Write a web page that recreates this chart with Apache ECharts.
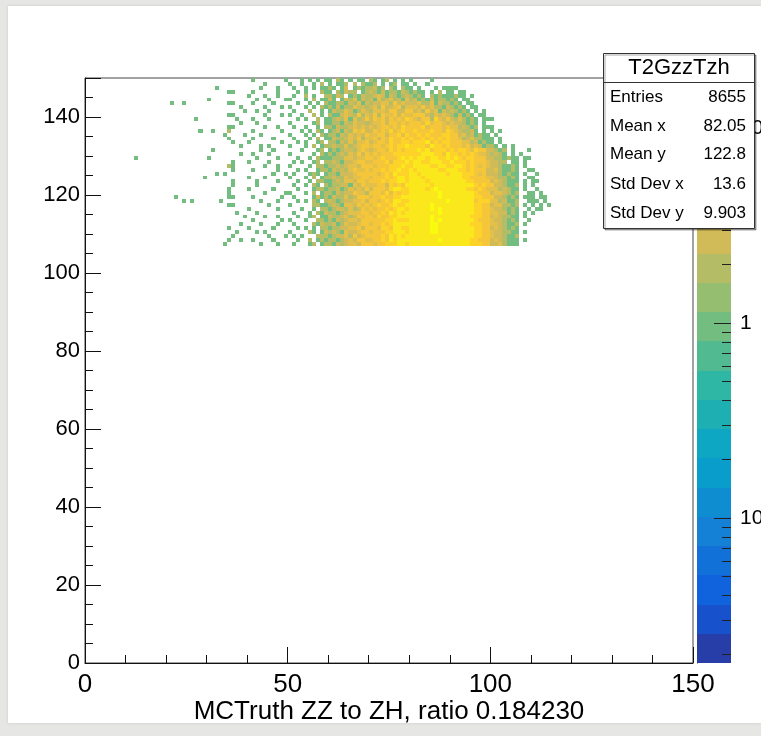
<!DOCTYPE html>
<html>
<head>
<meta charset="utf-8">
<script src="https://cdn.jsdelivr.net/npm/echarts/dist/echarts.min.js"></script>
<style>
  html, body { margin: 0; padding: 0; background: #e6e6e4; }
  #panel { position: absolute; left: 8px; top: 6px; width: 753px; height: 717px; background: #fff;
           box-shadow: 0 0 3px rgba(0,0,0,0.12); }
  #chart { position: absolute; left: 0; top: 0; width: 761px; height: 736px; }
</style>
</head>
<body>
<div id="panel"></div>
<div id="chart"></div>
<script>
// ---- histogram contents -------------------------------------------------
// One string per y bin (bin width 1), from y = 149 down to y = 107.
// Each character is one x bin starting at x = 10; '.' is empty,
// '1'..'9' are counts, 'a' = 10, 'b' = 11, ... (spaces only group columns by ten).
const binStartX = 10;
const topRowY = 149;
const countDigits = '.123456789abcdefghi';
const binCounts = [
  ".......... .......... .......... .1.......1 ...1.1.1.1 1.21.1.11. 21.12.1.1. 1....1.... .......... .......... ......",
  ".......... .......... .......... ....1..... 1..1..1.2. 1.112.2.21 12.1.12.11 .1..1..... .......... .......... ......",
  ".......... .......... ..1....... ...1...1.. .1..1.1.11 21.13.1212 2312.21.21 1.1...1.11 11........ .......... ......",
  ".......... .......... .....11... .1.....1.. ..1.1...21 1.21322.12 3213122132 1211.1.2.1 1.11...... .......... ......",
  ".......... .......... .......... 1...1..1.. .1..2.1..2 2132.12132 2343132123 2121.21211 1211.1.... .......... ......",
  ".......... .......... 1......... ..1..1...1 1...1.2.11 31.1324132 3142342314 2312131221 21.11..... .......... ......",
  ".......... .1..1..... .....11... .1....1... ..1..1.1.2 1122132413 2334425343 3342241322 121.11.... .......... ......",
  ".......... .......... ........1. ....1...1. 1...1.1.21 2131224332 3425334524 4435342213 2121.11... .......... ......",
  ".......... .......... .........1 ..1..1.... .1...2..1. 1322431243 2444365335 5342534132 32121.1.1. .......... ......",
  ".......... .......... .....11... ....1...1. 1..1..2.1. 2113432524 3526445364 4655324343 213121.11. .......... ......",
  ".......... .......1.. .......1.. .1...1.... ..1.1..2.1 1232414235 3645364547 5436627435 3242121.11 1......... ......",
  ".......... .......... ........1. ..1....... 1.....12.1 1221324332 3445365464 5564746543 4332121.1. .......... ......",
  ".......... .......... .....11... ....1..1.. .1..1..1.2 2132234343 4345546475 6657465646 4423212.11 1......... ......",
  ".......... ........1. .1...2.... .1......1. ...1.1.21. 1231325453 3546474576 5766575647 5432231.1. 1.1....... ......",
  ".......... .......... ....1....1 ...1...... 1...1.1.21 2213243435 4456365748 6675856577 5534231211 .1........ ......",
  ".......... .......... .....1.... .1....1... .1...1.2.1 1322343524 4535476586 7667575867 6542342211 1.1....... ......",
  ".......... .......... ......1... 1.......1. ..1.1..12. 2213242446 3466475687 6877967687 6554423121 1.1....... ......",
  ".......... .......... ........1. ...1.1.... 1...1.2.12 2322423455 4564586779 8787597868 6654534312 21.1.1.... ......",
  ".......... .......... .1........ ...1..1... ...1...12. 1212332454 3455476867 7798a68876 7677548553 3212.1...1 ......",
  ".......... .......... ........1. .1...1.... 1.....1.21 2123243536 4546657787 8879a97869 7867685443 2321.1.1.. ......",
  "..1....... .......... 1......... ..1....1.. ..1..1.211 1222443445 5457566898 989a7b9889 8976786553 3221211.11 ......",
  ".......... .......... ......1... 1....1.... .1.1..12.2 2321334564 4566747879 7a98899a87 9887675564 3322.11.1. ......",
  ".......... .......... .....21... ....1..1.. 1....1.221 2232344356 5465687798 8a99b87a98 8997685454 3321121.1. ......",
  ".......... .......... ......1... .1.....1.. ..1.1..122 1323245446 4567578a87 98aab9a889 a988675563 3421121..1 1.....",
  ".......... .......... ..1.1..... ......1..1 .1...121.1 2213334565 5546769788 a989ba9a98 9a98775463 3321211.1. .1....",
  ".......... .........1 .......... 1...1..... 1...1.2.12 2322434456 4656768a97 99b89ab9a9 9a98865564 4322121..1 1.....",
  ".......... .......... ......1... ..1....1.. ..1..1.221 1232443564 5567678a98 9aab8a9ca9 a99a876655 3432111.1. 11....",
  ".......... .......... ......1... ..1....... .1..1.21.2 1223314354 4456385769 99bac8aca9 bba99a7685 5332112.1. 1.....",
  ".......... .......... .....1.... 1.....1... ..1...1221 2231243436 3566479a87 a9bb89dcba ab9c886754 4423211.1. .1....",
  ".......... .......... .....1.... ....1....1 1...1.2.12 2132335442 5564748688 bab9acbdaa c9abb97665 3443212..1 1.1...",
  ".......... ..1....... .....11... .1......1. .1....1312 1322423565 4657668799 9aacbb9eca bab9a98756 5332121.11 1.11..",
  ".......... ....1.1... ...1...... ...1...1.. ..1.1.21.2 3212334453 6645769a78 ab9cbcaabd 9cba996877 4423112..1 11.1..",
  ".......... .......... .....11... .....1.... 1.....2211 2321443546 4576589879 bcaa9dcbab aab9ba7865 3442212.1. 1.1.1.",
  ".......... .......... .......... 1......1.. ...1..1.22 1233242364 5466758a98 9bbacdaecb cba99b8766 4332121..1 .11...",
  ".......... .......... .......1.. ..1....... .1...1.213 2212344455 4667597a8a bba9ccbdab ab9ab97755 4433121.1. 1.....",
  ".......... .......... .........1 ....1..1.. ..1..12.11 3223423546 5475688a99 acbb9dcabc b9aab87866 3432211.1. ......",
  ".......... .......... .......... .1......1. 1...1..221 2132344365 5566779888 abcaadbeca 9bba997665 4332121..1 ......",
  ".......... .......... ........1. ...1...1.. .1....2132 2312433456 4657689a9a bacbbeecab ab9ba87756 4432112.1. ......",
  ".......... .......... .....1.... 1.....1... ..1.1.1.22 1223344536 5647769a88 abbcaidcba bab99a7865 3432121... ......",
  ".......... .......... .......1.. ..1.1..... 1....21.13 2321433465 4566789a98 bcaa9ddbcb abb9a97765 4332211.1. ......",
  ".......... .......... ......1... .....1...1 .1.1...222 1233425345 5567698a89 abcab9cbaa 9ab99a7766 4332112... ......",
  ".......... .......... .....1..1. .1....1... ..1..2.121 2212343564 4657697999 9bbaacbdab ba99a87665 3432111.1. ......",
  ".......... .......... ....1..... ...1...1.. .1...12.12 2132344355 5466788a98 abab9cbbac a9ba987765 3342111... ......"
];

// ---- axes and labels ------------------------------------------------------
const xTitle = 'MCTruth ZZ to ZH, ratio 0.184230';
const histName = 'T2GzzTzh';
const statsRows = [
  ['Entries', '8655'],
  ['Mean x', '82.05'],
  ['Mean y', '122.8'],
  ['Std Dev x', '13.6'],
  ['Std Dev y', '9.903']
];
// palette axis (log scale) and its tick marks
const zMin = 0.018;
const zMax = 18;
const nBands = 20;
const zTicks = [0.02, 0.03, 0.04, 0.05, 0.06, 0.07, 0.08, 0.09,
                0.1, 0.2, 0.3, 0.4, 0.5, 0.6, 0.7, 0.8, 0.9,
                1, 2, 3, 4, 5, 6, 7, 8, 9, 10];
const zMajorTicks = [0.1, 1, 10];

// ---- "bird" palette --------------------------------------------------------
const birdStops = [0.0, 0.125, 0.25, 0.375, 0.5, 0.625, 0.75, 0.875, 1.0];
const birdR = [0.2082, 0.0592, 0.0780, 0.0232, 0.1802, 0.5301, 0.8186, 0.9956, 0.9764];
const birdG = [0.1664, 0.3599, 0.5041, 0.6419, 0.7178, 0.7492, 0.7328, 0.7862, 0.9832];
const birdB = [0.5293, 0.8684, 0.8385, 0.7914, 0.6425, 0.4662, 0.3499, 0.1968, 0.0539];

function birdColor(t) {
  let i = 0;
  while (i < birdStops.length - 2 && t > birdStops[i + 1]) i++;
  const f = (t - birdStops[i]) / (birdStops[i + 1] - birdStops[i]);
  const c = (a) => Math.round(255 * (a[i] + f * (a[i + 1] - a[i])));
  return 'rgb(' + c(birdR) + ',' + c(birdG) + ',' + c(birdB) + ')';
}
const logMin = Math.log10(zMin), logMax = Math.log10(zMax);
function bandOf(v) {
  const k = Math.floor(0.01 + (Math.log10(v) - logMin) / (logMax - logMin) * nBands);
  return Math.max(0, Math.min(nBands - 1, k));
}
function bandColor(k) {
  const idx = Math.min(254, Math.floor((k + 0.99) * 255 / nBands));
  return birdColor(idx / 254);
}

// ---- build the series data ------------------------------------------------
const cells = [];
binCounts.forEach((row, r) => {
  const y = topRowY - r;
  row.replace(/ /g, '').split('').forEach((ch, i) => {
    const n = countDigits.indexOf(ch);
    if (n > 0) cells.push([binStartX + i, y, n]);
  });
});

const bands = [];
for (let k = 0; k < nBands; k++) {
  const lo = Math.pow(10, logMin + (logMax - logMin) * k / nBands);
  const hi = Math.pow(10, logMin + (logMax - logMin) * (k + 1) / nBands);
  bands.push([0, lo, hi, k]);
}
const tickData = zTicks.map(v => [1, v, zMajorTicks.indexOf(v) >= 0 ? 1 : 0]);

// ---- chart ----------------------------------------------------------------
const FONT = '"Liberation Sans", Arial, Helvetica, sans-serif';
const INK = '#111';
const chart = echarts.init(document.getElementById('chart'), null, { renderer: 'canvas' });

const statsGraphics = [
  { type: 'rect', z: 100, shape: { x: 603.5, y: 53.5, width: 151, height: 175 },
    style: { fill: '#fff', stroke: '#333', lineWidth: 1,
             shadowColor: 'rgba(0,0,0,0.35)', shadowOffsetX: 1.5, shadowOffsetY: 1.5, shadowBlur: 0 } },
  { type: 'line', z: 101, shape: { x1: 603.5, y1: 82.5, x2: 754.5, y2: 82.5 },
    style: { stroke: '#333', lineWidth: 1 } },
  { type: 'text', z: 101, x: 679, y: 68,
    style: { text: histName, font: '22px ' + FONT, fill: '#000', align: 'center', verticalAlign: 'middle' } }
];
const rowY = [97, 126, 154.5, 184, 213];
statsRows.forEach((r, i) => {
  statsGraphics.push({ type: 'text', z: 101, x: 610, y: rowY[i],
    style: { text: r[0], font: '17px ' + FONT, fill: '#000', align: 'left', verticalAlign: 'middle' } });
  statsGraphics.push({ type: 'text', z: 101, x: 746, y: rowY[i],
    style: { text: r[1], font: '17px ' + FONT, fill: '#000', align: 'right', verticalAlign: 'middle' } });
});

const option = {
  animation: false,
  backgroundColor: 'transparent',
  grid: [
    { left: 85, top: 78, width: 608, height: 585, show: true, backgroundColor: '#fff',
      borderColor: '#444', borderWidth: 1, containLabel: false, outerBoundsMode: 'none' },
    { left: 697, top: 78, width: 34, height: 585, show: false, containLabel: false, outerBoundsMode: 'none' }
  ],
  xAxis: [
    { gridIndex: 0, type: 'value', min: 0, max: 150, interval: 50,
      axisLine: { show: true, onZero: false, lineStyle: { color: INK, width: 1 } },
      axisTick: { show: true, inside: true, length: 16, lineStyle: { color: INK, width: 1 } },
      minorTick: { show: true, splitNumber: 5, length: 8, lineStyle: { color: INK, width: 1 } },
      splitLine: { show: false }, minorSplitLine: { show: false },
      axisLabel: { color: '#000', fontSize: 26, fontFamily: FONT, margin: 9, hideOverlap: false },
      name: xTitle, nameLocation: 'middle', nameGap: 36, nameMoveOverlap: false,
      nameTextStyle: { color: '#000', fontSize: 26, fontFamily: FONT } },
    { gridIndex: 1, type: 'value', min: 0, max: 1, show: false }
  ],
  yAxis: [
    { gridIndex: 0, type: 'value', position: 'left', min: 0, max: 150, interval: 20,
      axisLine: { show: true, onZero: false, lineStyle: { color: INK, width: 1 } },
      axisTick: { show: true, inside: true, length: 16, lineStyle: { color: INK, width: 1 } },
      splitLine: { show: false },
      axisLabel: { color: '#000', fontSize: 22, fontFamily: FONT, margin: 5, hideOverlap: false,
                   formatter: v => (v % 20 === 0 && v < 150) ? String(v) : '' } },
    { gridIndex: 0, type: 'value', position: 'left', offset: 0, min: 0, max: 150, interval: 5,
      axisLine: { show: false },
      axisTick: { show: true, inside: true, length: 8, lineStyle: { color: INK, width: 1 } },
      axisLabel: { show: false }, splitLine: { show: false } },
    { gridIndex: 1, type: 'log', position: 'right', min: zMin, max: zMax,
      axisLine: { show: true, lineStyle: { color: '#222', width: 1 } },
      axisTick: { show: false }, minorTick: { show: false }, splitLine: { show: false },
      axisLabel: { color: '#000', fontSize: 21, fontFamily: FONT, margin: 9, hideOverlap: false,
        formatter: v => {
          const e = Math.round(Math.log10(v));
          if (Math.abs(Math.log10(v) - e) > 1e-6) return '';
          if (e === 0) return '1';
          if (e === 1) return '10';
          return '{m|10}{s|' + e + '}';
        },
        rich: { m: { fontSize: 21, fontFamily: FONT, color: '#000' },
                s: { fontSize: 14, fontFamily: FONT, color: '#000', padding: [0, 0, 12, 0] } } } }
  ],
  series: [
    { type: 'custom', name: histName, xAxisIndex: 0, yAxisIndex: 0, clip: true,
      data: cells, encode: { x: 0, y: 1 },
      renderItem: (params, api) => {
        const x = api.value(0), y = api.value(1), n = api.value(2);
        const a = api.coord([x, y + 1]), b = api.coord([x + 1, y]);
        const x0 = Math.round(a[0]), y0 = Math.round(a[1]);
        const x1 = Math.round(b[0]), y1 = Math.round(b[1]);
        return { type: 'rect', shape: { x: x0, y: y0, width: x1 - x0, height: y1 - y0 },
                 style: { fill: bandColor(bandOf(n)) } };
      } },
    { type: 'custom', xAxisIndex: 1, yAxisIndex: 2, clip: false,
      data: bands, encode: { x: 0, y: [1, 2] },
      renderItem: (params, api) => {
        const lo = api.coord([0, api.value(1)]), hi = api.coord([1, api.value(2)]);
        return { type: 'rect',
                 shape: { x: lo[0], y: Math.round(hi[1]), width: hi[0] - lo[0], height: Math.round(lo[1]) - Math.round(hi[1]) },
                 style: { fill: bandColor(api.value(3)) } };
      } },
    { type: 'custom', xAxisIndex: 1, yAxisIndex: 2, clip: false, z: 5,
      data: tickData, encode: { x: 0, y: 1 },
      renderItem: (params, api) => {
        const p = api.coord([1, api.value(1)]);
        const len = api.value(2) ? 17 : 9;
        const yy = Math.round(p[1]) + 0.5;
        return { type: 'line', shape: { x1: p[0] - len, y1: yy, x2: p[0], y2: yy },
                 style: { stroke: '#222', lineWidth: 1 } };
      } }
  ],
  graphic: { elements: statsGraphics }
};
chart.setOption(option);
</script>
</body>
</html>
